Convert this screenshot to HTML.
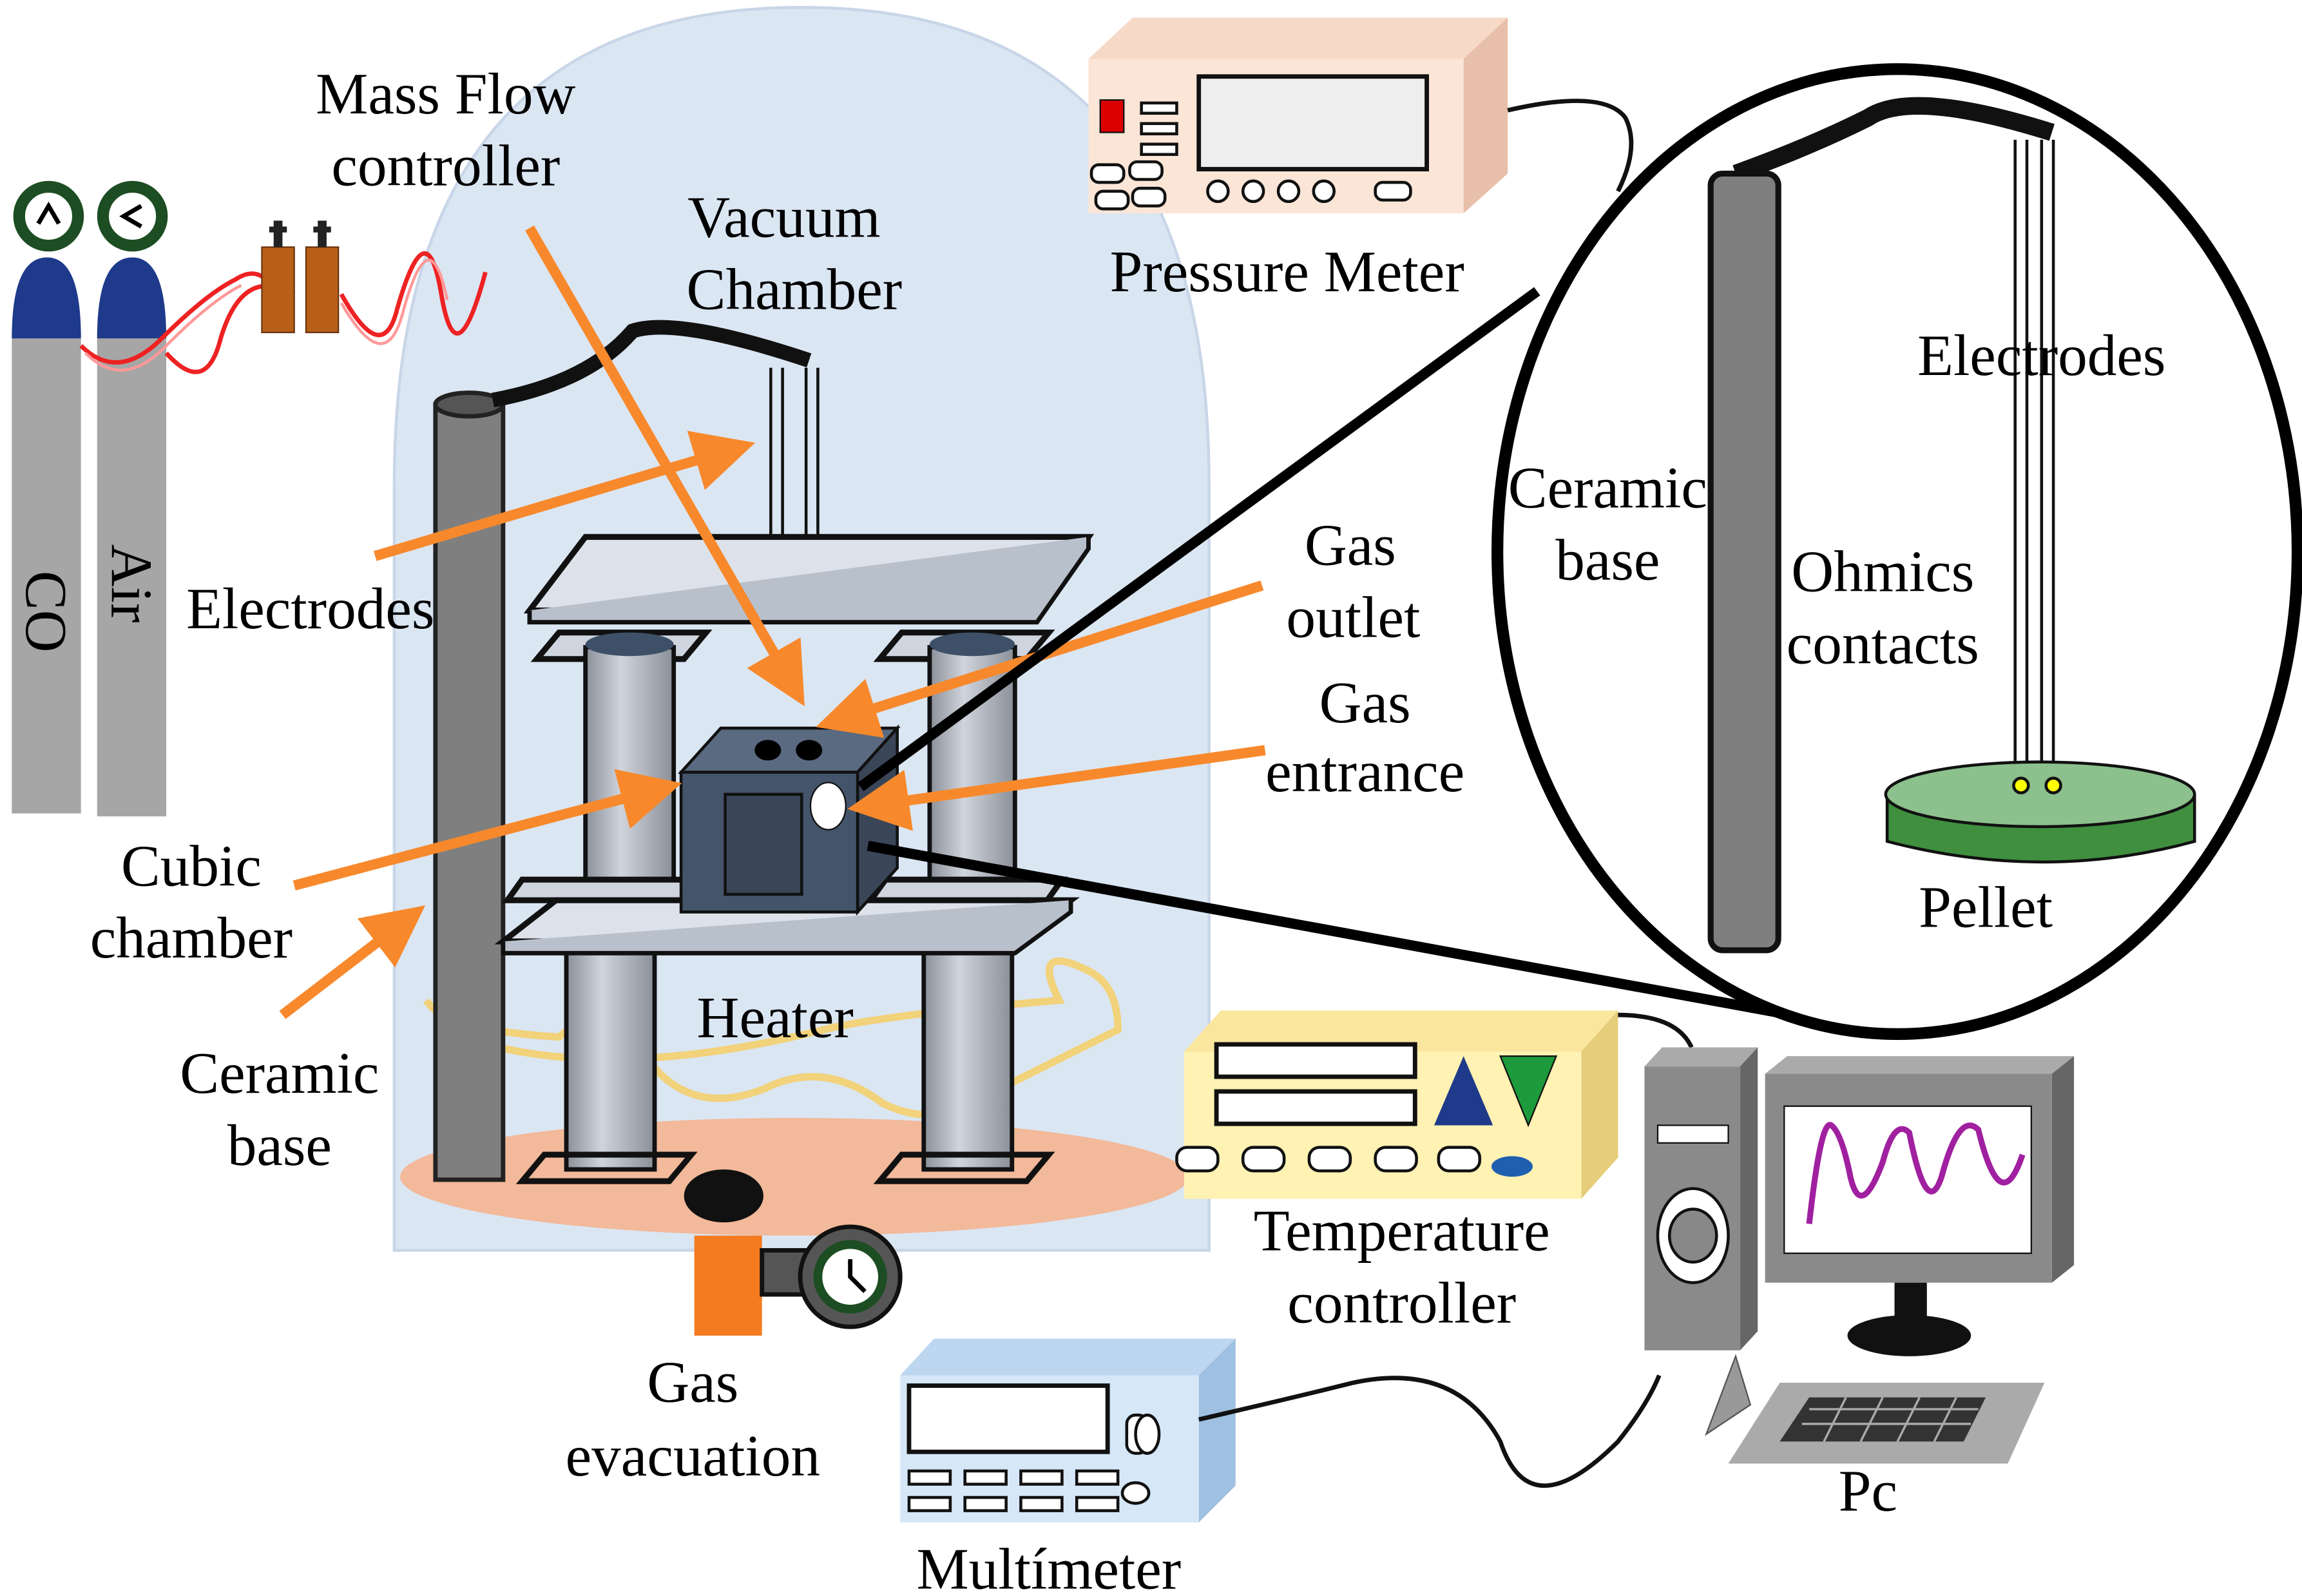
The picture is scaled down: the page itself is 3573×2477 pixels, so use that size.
<!DOCTYPE html>
<html><head><meta charset="utf-8"><style>
html,body{margin:0;padding:0;background:#fff}
svg{display:block}
text{font-family:"Liberation Serif",serif;font-size:40px;fill:#000}
</style></head><body>
<svg width="3573" height="2477" viewBox="0 0 1565 1085" xmlns="http://www.w3.org/2000/svg">
<defs>
<marker id="ar" markerWidth="6" markerHeight="6" refX="4" refY="3" orient="auto" markerUnits="strokeWidth">
<path d="M0,0 L6,3 L0,6 z" fill="#f7892c"/></marker>
<linearGradient id="cyl" x1="0" x2="1"><stop offset="0" stop-color="#8a8f98"/><stop offset="0.4" stop-color="#d0d4dc"/><stop offset="1" stop-color="#8a8f98"/></linearGradient>
</defs>
<path d="M268,850 L268,330 Q268,5 545,5 Q822,5 822,330 L822,850 Z" fill="#dbe6f3" stroke="#c9d6e8" stroke-width="2"/>
<ellipse cx="540" cy="800" rx="268" ry="40" fill="#f2b99a"/>
<path d="M290,680 Q300,700 380,705 Q420,670 440,720 Q470,760 520,740 Q560,720 600,750 Q640,770 680,740 Q720,720 760,700 Q760,670 740,660 Q700,640 720,680 Q600,690 560,700 Q400,740 300,700" fill="none" stroke="#f2d27a" stroke-width="5"/>
<rect x="8" y="225" width="47" height="328" fill="#a6a6a6"/>
<rect x="66" y="225" width="47" height="330" fill="#a6a6a6"/>
<path d="M8,230 Q8,175 32,175 Q55,175 55,230 Z" fill="#1f3a8a"/>
<path d="M66,230 Q66,175 90,175 Q113,175 113,230 Z" fill="#1f3a8a"/>
<circle cx="33" cy="147" r="20" fill="#fff" stroke="#1d4d22" stroke-width="8"/>
<circle cx="90" cy="147" r="20" fill="#fff" stroke="#1d4d22" stroke-width="8"/>
<path d="M26,152 L33,140 L40,152" fill="none" stroke="#000" stroke-width="3"/>
<path d="M96,140 L84,147 L96,154" fill="none" stroke="#000" stroke-width="3"/>
<text x="18" y="388" transform="rotate(90 18 388)">CO</text>
<text x="76" y="370" transform="rotate(90 76 370)">Air</text>
<path d="M55,235 Q80,260 110,230 Q140,200 160,190 Q175,180 185,195 M113,240 Q140,270 150,230 Q165,180 200,200 M232,200 Q260,250 270,210 Q290,140 300,200 Q310,260 330,185" fill="none" stroke="#e22" stroke-width="3"/>
<path d="M58,240 Q84,266 114,234 Q144,204 164,194 M232,206 Q262,258 274,212 Q292,146 304,204" fill="none" stroke="#f99" stroke-width="2"/>
<rect x="178" y="168" width="22" height="58" fill="#b8601a" stroke="#6b3510"/>
<rect x="208" y="168" width="22" height="58" fill="#b8601a" stroke="#6b3510"/>
<rect x="186" y="150" width="6" height="18" fill="#222"/><rect x="216" y="150" width="6" height="18" fill="#222"/>
<path d="M183,156 L195,156 M213,156 L225,156" stroke="#222" stroke-width="4"/>
<rect x="296" y="275" width="46" height="527" fill="#7f7f7f" stroke="#222" stroke-width="3"/>
<ellipse cx="319" cy="275" rx="23" ry="8" fill="#555" stroke="#222" stroke-width="3"/>
<path d="M335,272 Q400,260 430,225 Q460,215 550,245" fill="none" stroke="#111" stroke-width="10"/>
<path d="M524,250 L524,388 M532,250 L532,388 M548,250 L548,385 M556,250 L556,385" stroke="#111" stroke-width="2"/>
<rect x="385" y="645" width="60" height="150" fill="url(#cyl)" stroke="#111" stroke-width="3"/>
<rect x="628" y="645" width="60" height="150" fill="url(#cyl)" stroke="#111" stroke-width="3"/>
<path d="M355,803 L370,785 L470,785 L455,803 Z M598,803 L613,785 L713,785 L698,803 Z" fill="none" stroke="#111" stroke-width="4"/>
<path d="M365,448 L380,430 L480,430 L465,448 Z M598,448 L613,430 L713,430 L698,448 Z" fill="#cfd5df" stroke="#111" stroke-width="4"/>
<rect x="398" y="440" width="60" height="170" fill="url(#cyl)" stroke="#111" stroke-width="3"/>
<rect x="632" y="440" width="58" height="170" fill="url(#cyl)" stroke="#111" stroke-width="3"/>
<ellipse cx="428" cy="438" rx="30" ry="8" fill="#3d5068"/><ellipse cx="661" cy="438" rx="29" ry="8" fill="#3d5068"/>
<path d="M360,415 L398,365 L740,365 L705,415 Z" fill="#dde2ea" stroke="#111" stroke-width="4"/>
<path d="M360,415 L360,423 L705,423 L740,373 L740,365" fill="#b8c0cc" stroke="#111" stroke-width="3"/>
<path d="M345,612 L355,598 L475,598 L465,612 Z M592,612 L602,598 L722,598 L712,612 Z" fill="#cfd5df" stroke="#111" stroke-width="4"/>
<path d="M342,640 L378,612 L728,612 L690,640 Z" fill="#dde2ea" stroke="#111" stroke-width="4"/>
<path d="M342,640 L342,648 L690,648 L728,620 L728,612" fill="#b8c0cc" stroke="#111" stroke-width="3"/>
<path d="M463,525 L490,495 L610,495 L583,525 Z" fill="#5a6a80" stroke="#111" stroke-width="2"/>
<path d="M583,525 L610,495 L610,590 L583,620 Z" fill="#3a4658" stroke="#111" stroke-width="2"/>
<rect x="463" y="525" width="120" height="95" fill="#44546a" stroke="#111" stroke-width="2"/>
<rect x="493" y="540" width="52" height="68" fill="#3a4658" stroke="#111" stroke-width="2"/>
<ellipse cx="522" cy="510" rx="9" ry="7" fill="#000"/><ellipse cx="550" cy="510" rx="9" ry="7" fill="#000"/>
<ellipse cx="563" cy="548" rx="12" ry="16" fill="#fff" stroke="#111"/>
<rect x="472" y="840" width="46" height="68" fill="#f47b20"/>
<ellipse cx="492" cy="813" rx="27" ry="18" fill="#111"/>
<rect x="518" y="850" width="50" height="30" fill="#555" stroke="#111" stroke-width="3"/>
<circle cx="578" cy="868" r="34" fill="#555" stroke="#111" stroke-width="3"/>
<circle cx="578" cy="868" r="22" fill="#fff" stroke="#1d4d22" stroke-width="6"/>
<path d="M578,856 L578,868 L588,878" fill="none" stroke="#000" stroke-width="3"/>
<g stroke="#f7892c" stroke-width="7" fill="none" marker-end="url(#ar)">
<line x1="360" y1="155" x2="540" y2="468"/>
<line x1="255" y1="378" x2="500" y2="305"/>
<line x1="858" y1="398" x2="568" y2="490"/>
<line x1="860" y1="510" x2="590" y2="548"/>
<line x1="200" y1="602" x2="450" y2="536"/>
<line x1="192" y1="690" x2="278" y2="624"/>
<line x1="1345" y1="450" x2="1370" y2="515"/>
<line x1="1350" y1="450" x2="1390" y2="508"/>
</g>
<line x1="585" y1="535" x2="1045" y2="198" stroke="#000" stroke-width="7"/>
<line x1="590" y1="575" x2="1218" y2="690" stroke="#000" stroke-width="7"/>
<path d="M740,40 L770,12 L1025,12 L995,40 Z" fill="#f7d9c8"/>
<path d="M995,40 L1025,12 L1025,118 L995,145 Z" fill="#e8bfa8"/>
<rect x="740" y="40" width="255" height="105" fill="#fbe5d6"/>
<rect x="815" y="52" width="155" height="63" fill="#eee" stroke="#111" stroke-width="3"/>
<rect x="748" y="68" width="16" height="22" fill="#d00" stroke="#111"/>
<g fill="#fff" stroke="#111" stroke-width="2"><rect x="776" y="70" width="24" height="7"/><rect x="776" y="84" width="24" height="7"/><rect x="776" y="98" width="24" height="7"/>
<circle cx="828" cy="130" r="7"/><circle cx="852" cy="130" r="7"/><circle cx="876" cy="130" r="7"/><circle cx="900" cy="130" r="7"/><rect x="935" y="124" width="24" height="12" rx="5"/>
<rect x="742" y="112" width="22" height="12" rx="5"/><rect x="768" y="110" width="22" height="12" rx="5"/><rect x="745" y="130" width="22" height="12" rx="5"/><rect x="770" y="128" width="22" height="12" rx="5"/></g>
<path d="M1025,75 Q1090,60 1105,80 Q1115,100 1100,130" fill="none" stroke="#111" stroke-width="3"/>
<ellipse cx="1290" cy="375" rx="272" ry="328" fill="#fff" stroke="#000" stroke-width="8"/>
<path d="M1180,118 Q1230,100 1270,80 Q1300,60 1395,90" fill="none" stroke="#111" stroke-width="12"/>
<path d="M1370,95 L1370,528 M1378,95 L1378,528 M1388,95 L1388,528 M1396,95 L1396,528" stroke="#111" stroke-width="2"/>
<rect x="1163" y="118" width="46" height="528" rx="8" fill="#7f7f7f" stroke="#111" stroke-width="4"/>
<path d="M1283,540 L1283,572 Q1390,600 1492,572 L1492,540" fill="#3f8f3f" stroke="#111" stroke-width="2"/>
<ellipse cx="1387" cy="540" rx="105" ry="22" fill="#8cc08c" stroke="#111" stroke-width="2"/>
<circle cx="1374" cy="534" r="5" fill="#ff0" stroke="#111" stroke-width="2"/><circle cx="1396" cy="534" r="5" fill="#ff0" stroke="#111" stroke-width="2"/>
<path d="M805,715 L830,687 L1100,687 L1075,715 Z" fill="#fbe69d"/>
<path d="M1075,715 L1100,687 L1100,787 L1075,815 Z" fill="#e6cd7a"/>
<rect x="805" y="715" width="270" height="100" fill="#fff2b3"/>
<rect x="827" y="710" width="135" height="22" fill="#fff" stroke="#111" stroke-width="3"/>
<rect x="827" y="742" width="135" height="22" fill="#fff" stroke="#111" stroke-width="3"/>
<path d="M975,765 L995,718 L1015,765 Z" fill="#1f3a8a"/>
<path d="M1020,718 L1058,718 L1039,765 Z" fill="#1d9b3c" stroke="#111"/>
<g fill="#fff" stroke="#111" stroke-width="2"><rect x="800" y="780" width="28" height="16" rx="7"/><rect x="845" y="780" width="28" height="16" rx="7"/><rect x="890" y="780" width="28" height="16" rx="7"/><rect x="935" y="780" width="28" height="16" rx="7"/><rect x="978" y="780" width="28" height="16" rx="7"/></g>
<ellipse cx="1028" cy="793" rx="14" ry="7" fill="#1f5fb0"/>
<path d="M1100,690 Q1140,690 1150,712" fill="none" stroke="#111" stroke-width="3"/>
<path d="M1118,725 L1130,712 L1195,712 L1183,725 Z" fill="#aaa"/>
<path d="M1183,725 L1195,712 L1195,905 L1183,918 Z" fill="#666"/>
<rect x="1118" y="725" width="65" height="193" fill="#8a8a8a"/>
<rect x="1127" y="765" width="48" height="12" fill="#fff" stroke="#111"/>
<ellipse cx="1151" cy="840" rx="24" ry="32" fill="#fff" stroke="#111" stroke-width="2"/>
<ellipse cx="1151" cy="840" rx="16" ry="18" fill="#888" stroke="#111" stroke-width="2"/>
<path d="M1200,730 L1215,718 L1410,718 L1395,730 Z" fill="#aaa"/>
<path d="M1395,730 L1410,718 L1410,860 L1395,872 Z" fill="#666"/>
<rect x="1200" y="730" width="195" height="142" fill="#8a8a8a"/>
<rect x="1213" y="752" width="168" height="100" fill="#fff" stroke="#111"/>
<path d="M1230,832 Q1238,760 1245,765 Q1252,770 1258,800 Q1265,830 1280,790 Q1288,760 1298,770 Q1310,830 1320,800 Q1332,755 1345,768 Q1360,830 1375,785" fill="none" stroke="#a020a0" stroke-width="4"/>
<rect x="1288" y="872" width="22" height="30" fill="#111"/>
<ellipse cx="1298" cy="908" rx="42" ry="14" fill="#111"/>
<path d="M1160,975 L1180,922 L1190,955 Z" fill="#999" stroke="#555"/>
<path d="M1175,995 L1210,940 L1390,940 L1365,995 Z" fill="#aaa"/>
<path d="M1210,980 L1230,950 L1350,950 L1335,980 Z" fill="#333"/>
<path d="M1230,958 L1345,958 M1225,968 L1340,968 M1255,950 L1240,980 M1280,950 L1265,980 M1305,950 L1290,980 M1330,950 L1315,980" stroke="#aaa" stroke-width="1.5"/>
<path d="M612,935 L635,910 L840,910 L815,935 Z" fill="#bcd7ef"/>
<path d="M815,935 L840,910 L840,1010 L815,1035 Z" fill="#9fc0e0"/>
<rect x="612" y="935" width="203" height="100" fill="#d6e8f8"/>
<rect x="618" y="942" width="135" height="45" fill="#fff" stroke="#111" stroke-width="3"/>
<rect x="766" y="962" width="14" height="26" rx="6" fill="#fff" stroke="#111" stroke-width="2"/><ellipse cx="780" cy="975" rx="8" ry="13" fill="#fff" stroke="#111" stroke-width="2"/>
<g fill="#fff" stroke="#111" stroke-width="2"><rect x="618" y="1000" width="28" height="9"/><rect x="656" y="1000" width="28" height="9"/><rect x="694" y="1000" width="28" height="9"/><rect x="732" y="1000" width="28" height="9"/>
<rect x="618" y="1018" width="28" height="9"/><rect x="656" y="1018" width="28" height="9"/><rect x="694" y="1018" width="28" height="9"/><rect x="732" y="1018" width="28" height="9"/><ellipse cx="772" cy="1015" rx="9" ry="7"/></g>
<path d="M815,965 Q880,950 920,940 Q990,925 1020,980 Q1040,1040 1100,980 Q1120,955 1128,935" fill="none" stroke="#111" stroke-width="3"/>
<text x="303" y="77" text-anchor="middle">Mass Flow</text>
<text x="303" y="126" text-anchor="middle">controller</text>
<text x="533" y="161" text-anchor="middle">Vacuum</text>
<text x="540" y="210" text-anchor="middle">Chamber</text>
<text x="875" y="198" text-anchor="middle">Pressure Meter</text>
<text x="211" y="427" text-anchor="middle">Electrodes</text>
<text x="918" y="384" text-anchor="middle">Gas</text>
<text x="920" y="433" text-anchor="middle">outlet</text>
<text x="928" y="491" text-anchor="middle">Gas</text>
<text x="928" y="538" text-anchor="middle">entrance</text>
<text x="130" y="602" text-anchor="middle">Cubic</text>
<text x="130" y="651" text-anchor="middle">chamber</text>
<text x="527" y="705" text-anchor="middle">Heater</text>
<text x="190" y="743" text-anchor="middle">Ceramic</text>
<text x="190" y="792" text-anchor="middle">base</text>
<text x="1388" y="255" text-anchor="middle">Electrodes</text>
<text x="1093" y="345" text-anchor="middle">Ceramic</text>
<text x="1093" y="394" text-anchor="middle">base</text>
<text x="1280" y="402" text-anchor="middle">Ohmics</text>
<text x="1280" y="451" text-anchor="middle">contacts</text>
<text x="1350" y="630" text-anchor="middle">Pellet</text>
<text x="953" y="850" text-anchor="middle">Temperature</text>
<text x="953" y="899" text-anchor="middle">controller</text>
<text x="471" y="953" text-anchor="middle">Gas</text>
<text x="471" y="1003" text-anchor="middle">evacuation</text>
<text x="1270" y="1027" text-anchor="middle">Pc</text>
<text x="713" y="1080" text-anchor="middle">Multímeter</text>
</svg>
</body></html>
